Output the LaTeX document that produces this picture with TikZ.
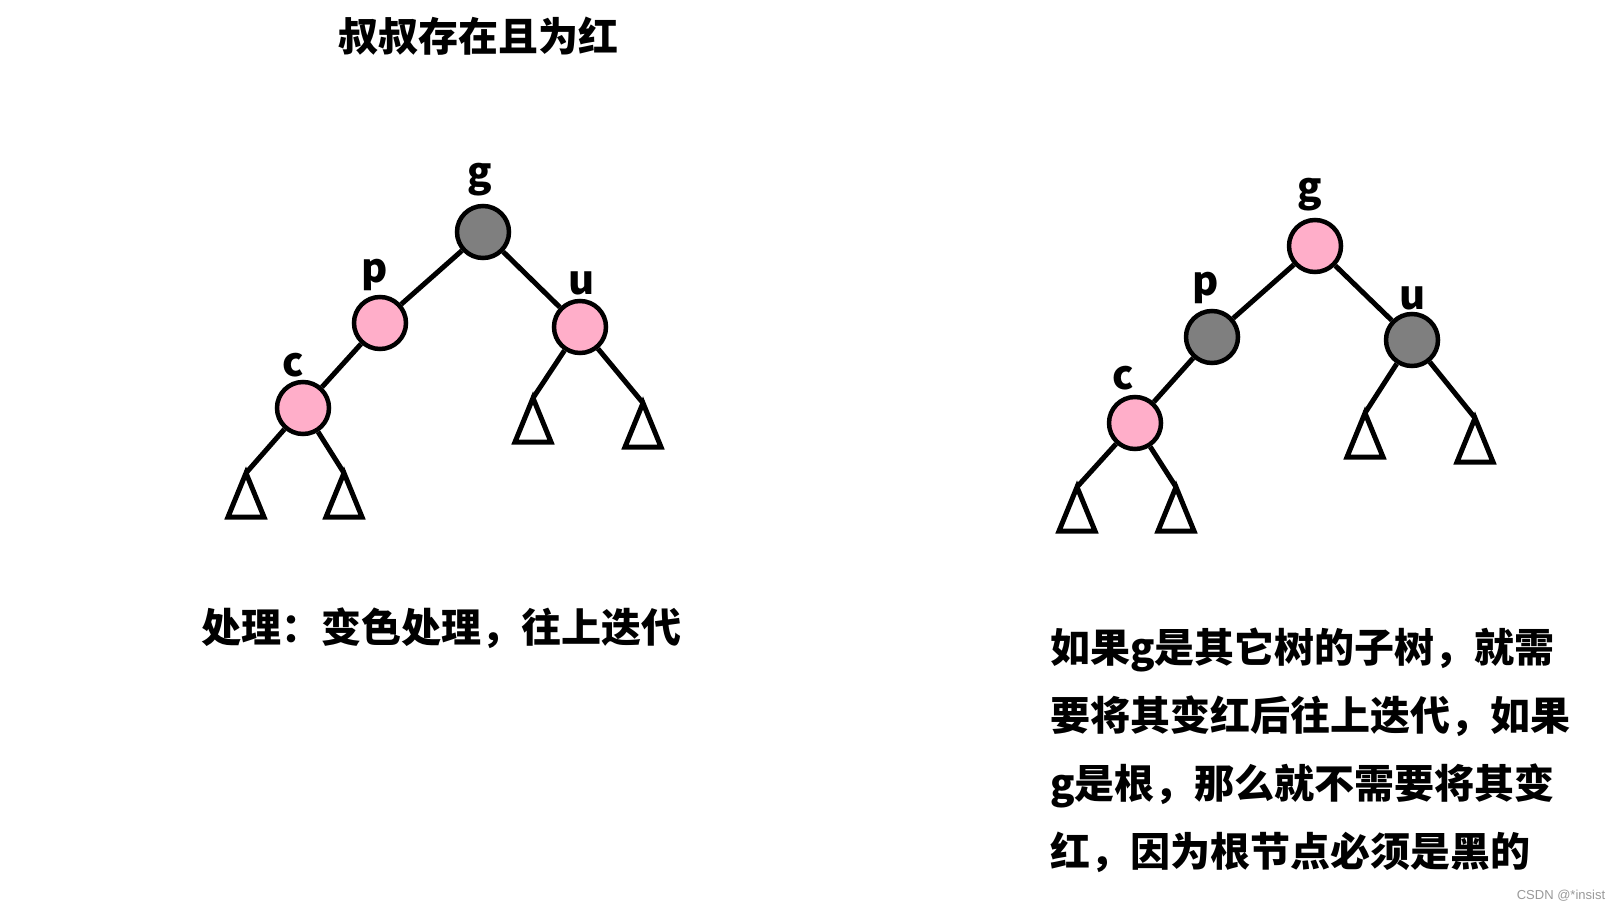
\documentclass[tikz,border=0pt]{standalone}
\usepackage{fontspec}
\newfontfamily\cjk{Noto Sans CJK SC}
\newfontfamily\wmfont{Liberation Sans}
\definecolor{nodepink}{RGB}{255,174,201}
\definecolor{nodegray}{RGB}{127,127,127}
\tikzset{
  rbnode/.style={circle, draw, line width=4.5pt, minimum size=52pt, inner sep=0pt},
  rednode/.style={rbnode, fill=nodepink},
  blacknode/.style={rbnode, fill=nodegray},
  lbl/.style={font=\cjk\bfseries\fontsize{40}{68}\selectfont, inner sep=0pt},
  branch/.style={line width=5pt},
}
\newcommand{\subtree}[1]{\draw[branch] (#1) -- ++(-18,44) -- ++(36,0) -- cycle;}
\begin{document}
\begin{tikzpicture}[x=1pt, y=-1pt]
    \path[fill=white, use as bounding box] (0,0) rectangle (1621,912);
    \node[lbl] (title) at (478,36) {叔叔存在且为红};
    % left tree
    \node[blacknode] (lg) at (483,232) {};
    \node[rednode] (lp) at (380,323) {};
    \node[rednode] (lu) at (580,327) {};
    \node[rednode] (lc) at (303,408) {};
    \coordinate (lc1) at (246,473); \coordinate (lc2) at (344,473);
    \coordinate (lu1) at (533,398); \coordinate (lu2) at (643,403);
    \draw[branch] (lg)--(lp) (lg)--(lu) (lp)--(lc);
    \draw[branch] (lc)--(lc1) (lc)--(lc2) (lu)--(lu1) (lu)--(lu2);
    \node[lbl] at (480,180) {g};
    \node[lbl] at (375,275) {p};
    \node[lbl] at (582,283) {u};
    \node[lbl] at (293,365) {c};
    \node[lbl] (lnote) at (441,628) {处理：变色处理，往上迭代};
    % right tree
    \node[rednode] (rg) at (1315,246) {};
    \node[blacknode] (rp) at (1212,337) {};
    \node[blacknode] (ru) at (1412,340) {};
    \node[rednode] (rc) at (1135,423) {};
    \coordinate (rc1) at (1077,487); \coordinate (rc2) at (1176,487);
    \coordinate (ru1) at (1365,413); \coordinate (ru2) at (1475,418);
    \draw[branch] (rg)--(rp) (rg)--(ru) (rp)--(rc);
    \draw[branch] (rc)--(rc1) (rc)--(rc2) (ru)--(ru1) (ru)--(ru2);
    \node[lbl] at (1310,195) {g};
    \node[lbl] at (1206,288) {p};
    \node[lbl] at (1413,298) {u};
    \node[lbl] at (1123,378) {c};
    \node[lbl, anchor=north west, align=left] (rnote) at (1050,628)
        {如果g是其它树的子树，就需\\要将其变红后往上迭代，如果\\g是根，那么就不需要将其变\\红，因为根节点必须是黑的};
    \foreach \t in {lc1,lc2,lu1,lu2,rc1,rc2,ru1,ru2} \subtree{\t}; % Triangles
    \node[font=\wmfont\fontsize{13}{13}\selectfont, text=black!40, inner sep=0pt] (mark) at (1561,896) {CSDN @*insist};
\end{tikzpicture}
\end{document}
